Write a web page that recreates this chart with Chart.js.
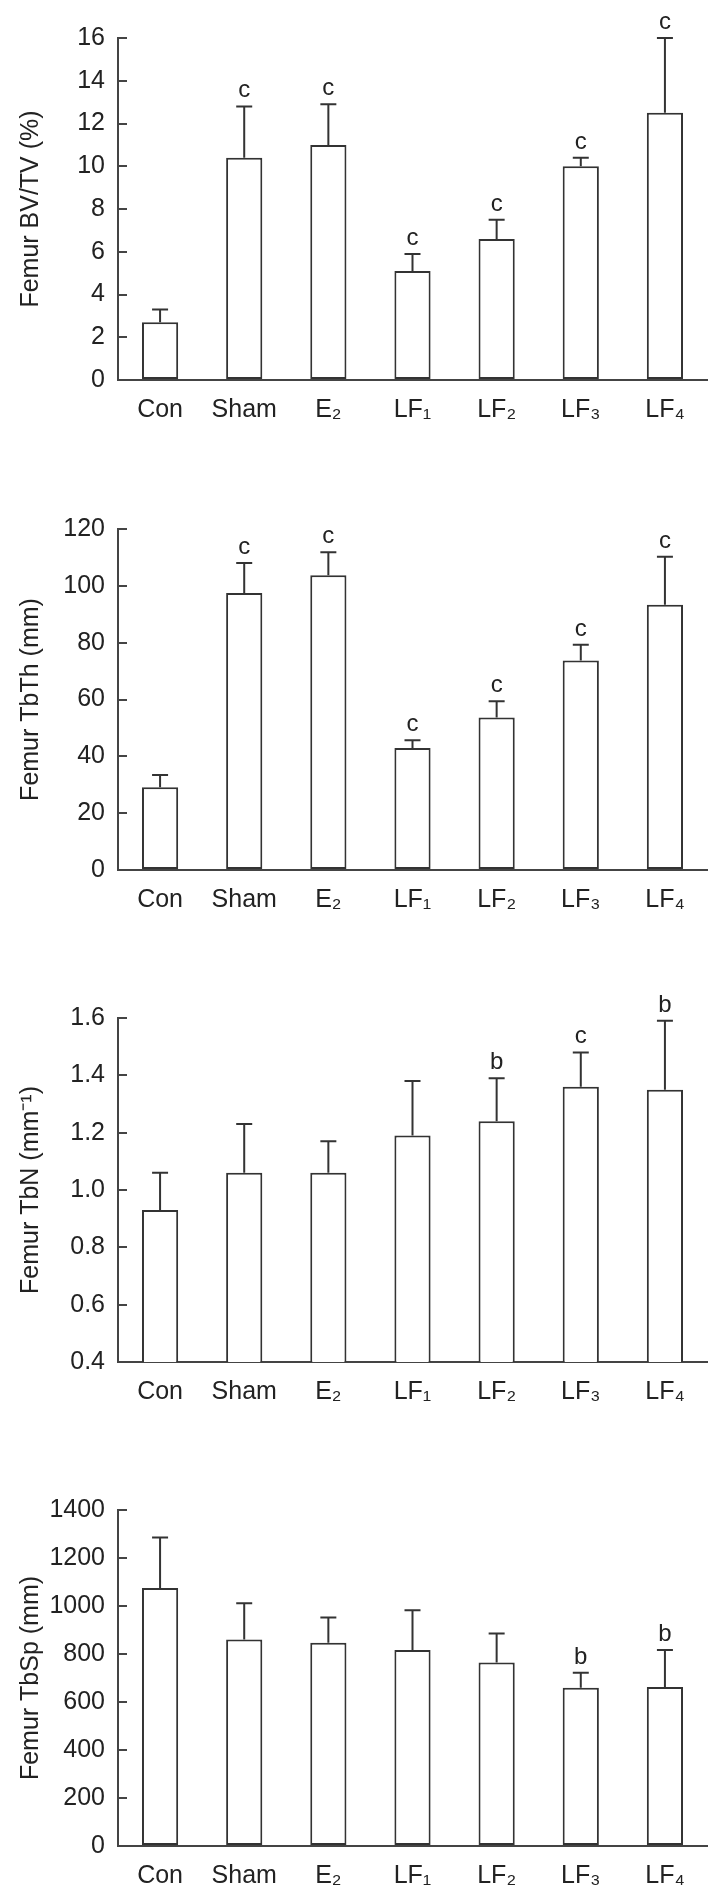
<!DOCTYPE html>
<html>
<head>
<meta charset="utf-8">
<script src="https://cdn.jsdelivr.net/npm/chart.js@4"></script>
<style>
  body { margin: 0; background: #fff; }
  canvas { position: absolute; left: 0; }
</style>
</head>
<body>
<canvas id="bvtv"></canvas>
<canvas id="tbth"></canvas>
<canvas id="tbn"></canvas>
<canvas id="tbsp"></canvas>
<script>
// groups along the x axis
const groups = ['Con', 'Sham', 'E₂', 'LF₁', 'LF₂', 'LF₃', 'LF₄'];

// Femur BV/TV (%)
const bvtvMean = [2.7, 10.4, 11.0, 5.1, 6.6, 10.0, 12.5];
const bvtvSd = [0.6, 2.4, 1.9, 0.8, 0.9, 0.4, 3.5];
const bvtvSig = ['', 'c', 'c', 'c', 'c', 'c', 'c'];

// Femur TbTh (mm)
const tbthMean = [29.1, 97.5, 103.7, 42.9, 53.7, 73.7, 93.3];
const tbthSd = [4.3, 10.5, 8.1, 2.8, 5.7, 5.6, 16.9];
const tbthSig = ['', 'c', 'c', 'c', 'c', 'c', 'c'];

// Femur TbN (mm-1)
const tbnMean = [0.93, 1.06, 1.06, 1.19, 1.24, 1.36, 1.35];
const tbnSd = [0.13, 0.17, 0.11, 0.19, 0.15, 0.12, 0.24];
const tbnSig = ['', '', '', '', 'b', 'c', 'b'];

// Femur TbSp (mm)
const tbspMean = [1075, 860, 847, 817, 765, 659, 663];
const tbspSd = [210, 151, 105, 165, 120, 63, 154];
const tbspSig = ['', '', '', '', '', 'b', 'b'];

Chart.defaults.font.family = '"Liberation Sans", Arial, sans-serif';
Chart.defaults.font.size = 25;
Chart.defaults.color = '#222';

const ink = '#333';

// error bars and significance letters on top of the bars
const errorBars = {
  id: 'errorBars',
  afterDatasetsDraw(chart, args, opts) {
    const ctx = chart.ctx;
    const y = chart.scales.y;
    const meta = chart.getDatasetMeta(0);
    ctx.save();
    ctx.strokeStyle = ink;
    ctx.lineWidth = 2;
    meta.data.forEach((bar, i) => {
      const top = y.getPixelForValue(opts.mean[i] + opts.sd[i]);
      ctx.beginPath();
      ctx.moveTo(bar.x, bar.y);
      ctx.lineTo(bar.x, top);
      ctx.moveTo(bar.x - 8, top);
      ctx.lineTo(bar.x + 8, top);
      ctx.stroke();
      if (opts.sig[i]) {
        ctx.fillStyle = '#222';
        ctx.font = '24px "Liberation Sans", Arial, sans-serif';
        ctx.textAlign = 'center';
        ctx.textBaseline = 'alphabetic';
        ctx.fillText(opts.sig[i], bar.x, top - 9);
      }
    });
    ctx.restore();
  }
};

function makePanel(id, plotTop, plotBottom, mean, sd, sig, title, yMin, yMax, yStep, digits) {
  const pad = 28;
  const xAxisH = 44;
  const canvas = document.getElementById(id);
  canvas.width = 714;
  canvas.height = plotBottom - plotTop + pad + xAxisH;
  canvas.style.top = (plotTop - pad) + 'px';

  return new Chart(canvas.getContext('2d'), {
    type: 'bar',
    data: {
      labels: groups,
      datasets: [{
        data: mean,
        backgroundColor: '#fff',
        borderColor: ink,
        borderWidth: 2,
        borderSkipped: false,
        barPercentage: 0.43,
        categoryPercentage: 1
      }]
    },
    options: {
      responsive: false,
      animation: false,
      layout: { padding: { top: pad, right: 7, left: 0, bottom: 0 } },
      plugins: {
        legend: { display: false },
        tooltip: { enabled: false },
        errorBars: { mean: mean, sd: sd, sig: sig }
      },
      scales: {
        x: {
          grid: { display: false },
          border: { display: true, color: '#444', width: 2 },
          ticks: { padding: 7, color: '#222' },
          afterFit: (s) => { s.height = xAxisH; }
        },
        y: {
          min: yMin,
          max: yMax,
          grid: { drawOnChartArea: false, drawTicks: true, tickLength: -9, color: '#444', lineWidth: 2 },
          border: { display: true, color: '#444', width: 2 },
          ticks: {
            stepSize: yStep,
            padding: 22,
            color: '#222',
            callback: (v) => v.toFixed(digits)
          },
          title: {
            display: true,
            text: title,
            color: '#222',
            font: { size: 25 },
            padding: { top: 16, bottom: 0 }
          },
          afterFit: (s) => { s.width = 118; }
        }
      }
    },
    plugins: [errorBars]
  });
}

makePanel('bvtv', 29, 380, bvtvMean, bvtvSd, bvtvSig, 'Femur BV/TV (%)', 0, 16, 2, 0);
makePanel('tbth', 520, 870, tbthMean, tbthSd, tbthSig, 'Femur TbTh (mm)', 0, 120, 20, 0);
makePanel('tbn', 1009, 1362, tbnMean, tbnSd, tbnSig, 'Femur TbN (mm⁻¹)', 0.4, 1.6, 0.2, 1);
makePanel('tbsp', 1501, 1846, tbspMean, tbspSd, tbspSig, 'Femur TbSp (mm)', 0, 1400, 200, 0);
</script>
</body>
</html>
